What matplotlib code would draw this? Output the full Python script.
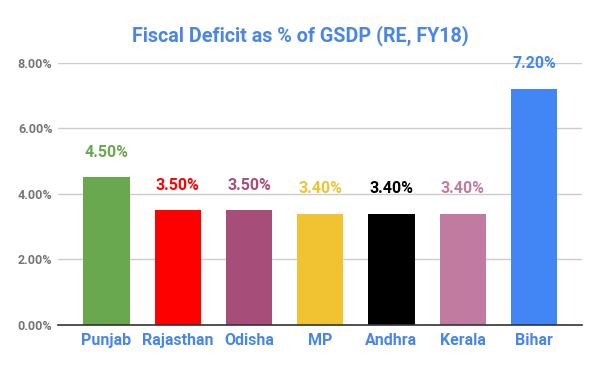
import matplotlib
matplotlib.use("Agg")
import matplotlib.pyplot as plt
from matplotlib.ticker import FuncFormatter

# -- DATA
states = ["Punjab", "Rajasthan", "Odisha", "MP", "Andhra", "Kerala", "Bihar"]
deficit = [4.50, 3.50, 3.50, 3.40, 3.40, 3.40, 7.20]
bar_colors = ["#6aa84f", "#ff0000", "#a64d79", "#f1c232", "#000000", "#c27ba0", "#4285f4"]
y_ticks = [0, 2, 4, 6, 8]

plt.rcParams["font.family"] = ["Roboto", "DejaVu Sans"]

BLUE = "#4a86e8"

fig = plt.figure(figsize=(6, 3.71), dpi=100)
ax = fig.add_axes([0.0967, 0.124, 0.874, 0.707])

x = list(range(len(states)))
ax.bar(x, deficit, width=0.65, color=bar_colors, zorder=3)

for xi, val, col in zip(x, deficit, bar_colors):
    ax.annotate(f"{val:.2f}%", (xi, val), xytext=(0, 18), textcoords="offset points",
                ha="center", va="center", fontsize=11.5, fontweight="bold", color=col, zorder=4)

ax.set_xlim(-0.68, 6.68)
ax.set_ylim(0, 8)
ax.set_yticks(y_ticks)
ax.yaxis.set_major_formatter(FuncFormatter(lambda v, _: f"{v:.2f}%"))
ax.set_xticks(x)
ax.set_xticklabels(states, fontsize=11.5, fontweight="bold", color=BLUE)
ax.tick_params(axis="x", length=0, pad=6)
ax.tick_params(axis="y", length=0, pad=4, labelsize=9)
for lab in ax.get_yticklabels():
    lab.set_fontweight("bold")
    lab.set_color("#757575")

ax.grid(axis="y", color="#cccccc", linewidth=1, zorder=0)
for side in ["top", "right", "left"]:
    ax.spines[side].set_visible(False)
ax.spines["bottom"].set_color("#333333")
ax.spines["bottom"].set_linewidth(1.2)
ax.spines["bottom"].set_zorder(5)

fig.text(0.5, 1 - 36 / 371, "Fiscal Deficit as % of GSDP (RE, FY18)", ha="center", va="center",
         fontsize=14.2, fontweight="bold", color=BLUE)

fig.savefig("out.png", dpi=100, facecolor="white")
